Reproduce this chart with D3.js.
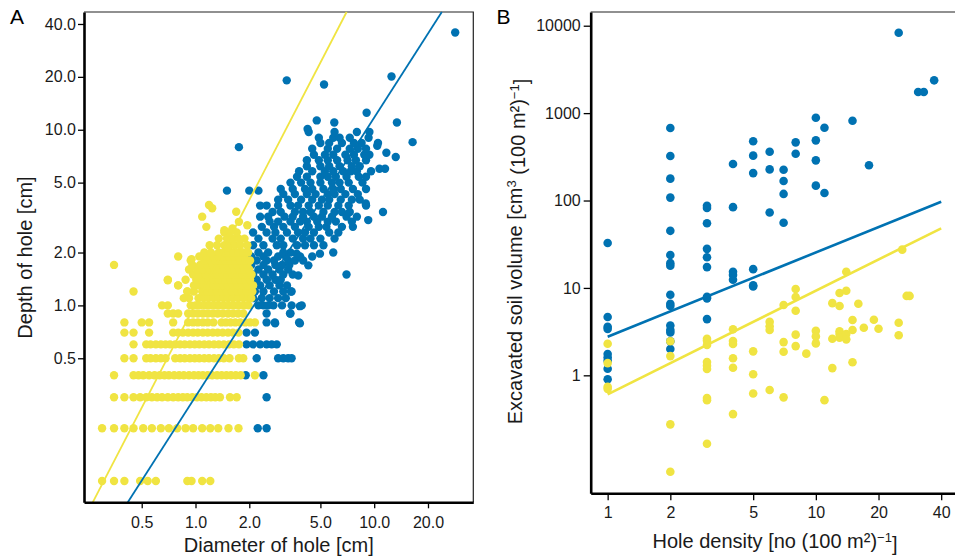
<!DOCTYPE html>
<html>
<head>
<meta charset="utf-8">
<script src="https://cdn.jsdelivr.net/npm/d3@7"></script>
<style>
  body { margin: 0; background: #fff; }
  svg { display: block; font-family: "Liberation Sans", Arial, sans-serif; }
</style>
</head>
<body>
<div id="chart"></div>
<script>
// ---- Panel A: depth vs diameter of hole (cm), rows grouped by depth ----
const yellowRowsA = [
  [0.1, [0.30,0.35,0.40,0.49,0.54,0.60,0.90,0.95,1.09,1.21]],
  [0.2, [0.30,0.35,0.40,0.45,0.51,0.57,0.64,0.71,0.79,0.88,0.97,1.09,1.21,1.34,1.53,1.74]],
  [0.3, [0.35,0.40,0.45,0.49,0.53,0.57,0.61,0.65,0.70,0.75,0.80,0.85,0.90,0.96,1.02,1.08,1.15,1.22,1.29,1.37,1.56,1.70]],
  [0.4, [0.35,0.45,0.48,0.51,0.55,0.59,0.63,0.67,0.71,0.76,0.81,0.86,0.92,0.98,1.04,1.10,1.17,1.24,1.32,1.40,1.49,1.58,1.68,1.79,2.15]],
  [0.5, [0.40,0.45,0.53,0.56,0.60,0.64,0.68,0.77,0.82,0.87,0.93,0.99,1.05,1.12,1.19,1.27,1.35,1.44,1.55,1.75,1.85]],
  [0.6, [0.45,0.53,0.56,0.60,0.64,0.68,0.72,0.77,0.82,0.87,0.93,0.99,1.05,1.12,1.19,1.27,1.35,1.44,1.54,1.64,1.75]],
  [0.7, [0.40,0.45,0.55,0.75,0.80,0.85,0.91,0.97,1.03,1.10,1.17,1.25,1.33,1.42,1.52,1.62,1.74]],
  [0.8, [0.40,0.50,0.55,0.75,0.91,0.97,1.03,1.10,1.17,1.26,1.40,1.48,1.57,1.67,1.78,1.90,2.02,2.15]],
  [0.9, [0.70,0.75,0.80,0.91,0.97,1.03,1.10,1.17,1.25,1.33,1.42,1.52,1.62,1.73,1.85]],
  [1.0, [0.65,0.70,0.94,1.00,1.06,1.13,1.20,1.28,1.36,1.45,1.55,1.65,1.76,1.88,1.98]],
  [1.1, [0.86,0.92,1.04,1.11,1.18,1.26,1.34,1.43,1.52,1.62,1.73,1.85,1.97,2.05]],
  [1.2, [0.45,0.90,0.98,1.09,1.16,1.24,1.32,1.41,1.50,1.60,1.71,1.82,1.94,2.08]],
  [1.3, [0.80,0.98,1.04,1.11,1.18,1.26,1.34,1.43,1.52,1.62,1.73,1.84,1.96,2.10]],
  [1.4, [0.70,0.88,1.01,1.10,1.18,1.26,1.35,1.47,1.57,1.67,1.78,1.90,2.02]],
  [1.5, [0.97,1.05,1.14,1.25,1.33,1.42,1.51,1.61,1.72,1.83,1.95,2.06]],
  [1.6, [0.92,1.02,1.10,1.20,1.28,1.36,1.45,1.55,1.65,1.76,1.88,2.00]],
  [1.7, [0.35,0.96,1.06,1.17,1.25,1.33,1.42,1.51,1.61,1.72,1.83,1.95]],
  [1.8, [0.94,1.12,1.22,1.30,1.38,1.47,1.57,1.67,1.78,1.90,2.02]],
  [1.9, [0.80,1.05,1.15,1.27,1.35,1.44,1.54,1.64,1.75,1.87]],
  [2.0, [1.12,1.22,1.35,1.44,1.53,1.63,1.74,1.85,1.97]],
  [2.2, [1.20,1.32,1.45,1.55,1.66,1.78,1.95]],
  [2.4, [1.35,1.50,1.62,1.75,1.88]],
  [2.6, [1.45,1.55,1.70]]
];
const yellowExtraA = [
  [1.09,3.2],[1.15,2.8],[1.19,3.73],[1.24,3.57],[1.69,3.41],[1.75,2.99],[1.95,2.86],
  [1.45,2.68],[1.61,2.74],[1.51,2.15],[0.80,1.3],[0.90,1.2],[0.70,1.39],[0.95,1.83]
];
const blueRowsA = [
  [0.2, [2.23,2.5]],
  [0.3, [2.5]],
  [0.4, [1.91,2.4]],
  [0.5, [2.2,2.9,3.1,3.3,3.45]],
  [0.6, [1.93,2.1,2.3,2.5,2.67,2.85]],
  [0.7, [1.93,2.15]],
  [0.8, [2.5,2.78,3.8]],
  [0.9, [2.5,3.4]],
  [1.0, [2.25,2.4,2.55,2.73,3.05,3.45,3.93]],
  [1.1, [2.1,2.35,2.6,2.9,3.2]],
  [1.2, [1.7,2.15,2.4,2.75,3.1,3.45]],
  [1.3, [2.05,2.3,2.6,2.95,3.25]],
  [1.4, [2.2,2.5,2.8,3.0]],
  [1.5, [2.1,2.4,2.7,3.1,3.5]],
  [1.6, [2.25,2.55,2.95,3.3]],
  [1.7, [2.05,2.4,2.8,3.05,3.35]],
  [1.8, [2.2,2.5,2.75,3.3,3.6,4.0]],
  [1.9, [2.05,2.4,2.9,3.2,3.85,4.5]],
  [2.0, [2.25,2.55,3.1,3.4]],
  [2.2, [2.1,2.4,2.85,3.1,3.7,4.1,4.6,5.2]],
  [2.4, [2.25,2.7,3.0,3.5,4.0,4.4,5.0,6.0]],
  [2.6, [2.1,2.5,2.8,3.25,3.75,4.1,4.6,5.6,6.3]],
  [2.8, [2.35,2.75,3.1,3.6,4.3,4.9,5.4,6.6,7.6]],
  [3.0, [2.6,2.9,3.4,3.85,4.2,4.8,5.5,6.1,7.5]],
  [3.2, [2.3,2.55,3.15,3.5,4.0,4.6,5.1,5.8,7.0,8.0]],
  [3.4, [2.7,3.0,3.6,4.0,4.4,5.2,6.0,6.6,7.3]],
  [3.7, [2.3,2.5,2.9,3.4,3.75,4.3,4.9,5.5,6.3,7.2,9.0]],
  [4.0, [2.9,3.3,3.9,4.5,5.1,5.6,6.5,7.5,8.3]],
  [4.3, [3.1,3.6,4.2,4.7,5.5,6.0,6.9,8.1]],
  [4.6, [3.0,3.5,4.1,4.5,5.2,5.9,6.5,7.6,9.0]],
  [5.0, [3.4,3.9,4.4,5.0,5.8,6.4,7.2,8.6]],
  [5.4, [3.7,4.2,5.0,5.5,6.1,7.0,8.2,9.0]],
  [5.8, [3.8,4.5,5.3,5.9,6.7,7.4,8.0,9.6]],
  [6.2, [4.2,5.0,5.6,6.4,7.5,8.3]],
  [6.7, [4.2,4.9,5.5,6.2,7.1,7.9,9.0]],
  [7.2, [4.6,5.3,5.9,6.9,7.7,8.8,9.4]],
  [7.8, [4.5,5.5,6.2,7.3,8.1,9.0]],
  [8.4, [5.0,5.6,6.6,7.7,8.5,10.5]],
  [9.0, [4.9,5.9,6.4,7.3,9.3]],
  [9.7, [4.3,6.0,8.0,9.4]]
];
const blueExtraA = [
  [28.4,35.8],[3.24,19.1],[5.24,18.1],[12.5,20.1],[1.75,7.96],[13.4,11.0],[16.4,8.5],
  [9.07,12.5],[13.2,7.0],[4.77,11.3],[5.98,11.0],[4.24,10.1],[1.5,4.5],[2.0,4.5],[2.25,4.5],
  [11.2,3.4],[7.0,1.5],[10.4,8.1],[11.7,7.4],[10.7,6.0],[11.5,6.0],[9.26,3.06],[8.97,3.8],
  [3.84,0.99],[3.38,0.9],[3.84,0.79],[2.79,0.79],[3.42,1.2],[3.76,1.48],[4.28,1.69],
  [4.97,1.97],[5.9,2.0],[3.68,1.97]
];
// fitted lines, endpoints [diameter, depth]
const fitYellowA = [[0.266, 0.0757], [7.01, 46.8]];
const fitBlueA = [[0.418, 0.0757], [23.9, 46.8]];
const ticksAx = [0.5, 1, 2, 5, 10, 20];
const ticksAy = [0.5, 1, 2, 5, 10, 20, 40];

// ---- Panel B: excavated soil volume vs hole density ----
const blueB = [
  [1,32.6],[1,4.65],[1,3.6],[1,3.4],[1,1.75],[1,1.6],[1,1.47],[1,1.19],[1,0.9],
  [2,676],[2,323],[2,178],[2,108],[2,45],[2,23.8],[2,19.2],[2,17.9],[2,8.36],[2,6.6],[2,6.2],
  [2,3.72],[2,3.3],[2,3.1],[2,2.45],[2,2.0],
  [3,87],[3,82],[3,55],[3,28],[3,22.4],[3,17.3],[3,7.9],[3,7.6],[3,4.4],
  [4,262],[4,84],[4,15.3],[4,14.1],[4,12.4],
  [5,476],[5,326],[5,206],[5,16.4],[5,10.7],[5,10.4],
  [6,362],[6,227],[6,73],
  [7,225],[7,167],[7,119],[7,55.7],
  [8,463],[8,343],
  [10,886],[10,488],[10,288],[10,148],
  [11,680],[11,122],
  [15,818],[18,253],[25,8320],[31,1743],[33,1743],[37,2372]
];
const yellowB = [
  [1,2.3],[1,1.38],[1,0.74],[1,0.7],
  [2,2.45],[2,1.66],[2,0.275],[2,0.079],
  [3,2.62],[3,2.49],[3,2.22],[3,1.42],[3,1.29],[3,1.18],[3,0.55],[3,0.52],[3,0.165],
  [4,3.36],[4,2.47],[4,2.28],[4,1.57],[4,1.22],[4,0.36],
  [5,1.88],[5,1.03],[5,0.62],
  [6,4.1],[6,3.64],[6,3.3],[6,0.68],
  [7,6.37],[7,2.4],[7,1.86],[7,0.56],
  [8,9.7],[8,7.87],[8,5.48],[8,2.92],[8,2.16],
  [9,1.77],
  [10,3.24],[10,2.79],[10,2.32],
  [11,0.52],
  [12,6.7],[12,2.62],[12,1.21],
  [13,8.74],[13,6.2],[13,3.19],[13,2.97],[13,2.69],
  [14,15.3],[14,9.29],[14,2.97],[14,2.58],
  [15,4.29],[15,3.3],[15,1.41],
  [16,6.6],[17,3.5],[19,4.33],[20,3.41],
  [25,4.0],[25,2.87],[26,27.4],[27.3,8.1],[28.2,8.1]
];
const fitBlueB = [[1, 2.765], [40, 96.9]];
const fitYellowB = [[1, 0.606], [40, 48.1]];
const ticksBx = [1, 2, 5, 10, 20, 40];
const ticksBy = [1, 10, 100, 1000, 10000];

const BLUE = "#0072B2", YELLOW = "#F0E442";
const FONT = "'Liberation Sans', Arial, sans-serif";

const width = 955, height = 559;
const svg = d3.select("#chart").append("svg")
    .attr("width", width).attr("height", height);

const expand = rows => rows.flatMap(([D, ds]) => ds.map(d => [d, D]));

// styles axis group
function styleAxis(g, size) {
    g.attr("font-family", FONT).attr("font-size", size);
    g.select(".domain").attr("stroke", "#000").attr("stroke-width", 2.6);
    g.selectAll(".tick line").attr("stroke", "#000").attr("stroke-width", 1.3);
    g.selectAll(".tick text").attr("fill", "#1a1a1a");
}

// ================= Panel A =================
const xA = d3.scaleLog().domain([0.2377, 35.86]).range([84, 473.3]);
const yA = d3.scaleLog().domain([0.0757, 46.8]).range([502.3, 12]);
const fmt1 = d3.format(".1f");

// thin top/right frame
svg.append("path")
    .attr("d", `M${xA.range()[0]},${yA.range()[1]}H${xA.range()[1]}V${yA.range()[0]}`)
    .attr("fill", "none").attr("stroke", "#222").attr("stroke-width", 1.2);

const gA = svg.append("g");
gA.selectAll(".pb").data(expand(blueRowsA).concat(blueExtraA)).enter()
    .append("circle")
    .attr("cx", d => xA(d[0])).attr("cy", d => yA(d[1])).attr("r", 4.2)
    .attr("fill", BLUE);
gA.selectAll(".py").data(expand(yellowRowsA).concat(yellowExtraA)).enter()
    .append("circle")
    .attr("cx", d => xA(d[0])).attr("cy", d => yA(d[1])).attr("r", 4.2)
    .attr("fill", YELLOW);

const lineA = d3.line().x(d => xA(d[0])).y(d => yA(d[1]));
svg.append("path").attr("d", lineA(fitYellowA)).attr("fill", "none")
    .attr("stroke", YELLOW).attr("stroke-width", 1.8);
svg.append("path").attr("d", lineA(fitBlueA)).attr("fill", "none")
    .attr("stroke", BLUE).attr("stroke-width", 1.8);

const axAy = svg.append("g").attr("transform", `translate(${xA.range()[0]},0)`)
    .call(d3.axisLeft(yA).tickValues(ticksAy).tickFormat(fmt1)
        .tickSize(6).tickPadding(2).tickSizeOuter(0));
styleAxis(axAy, 16);
const axAx = svg.append("g").attr("transform", `translate(0,${yA.range()[0]})`)
    .call(d3.axisBottom(xA).tickValues(ticksAx).tickFormat(fmt1)
        .tickSize(6).tickPadding(8).tickSizeOuter(0));
styleAxis(axAx, 16);

svg.append("text").attr("x", 278.8).attr("y", 551.7)
    .attr("text-anchor", "middle").attr("font-family", FONT).attr("font-size", 20)
    .attr("fill", "#1a1a1a").text("Diameter of hole [cm]");
svg.append("text").attr("transform", "translate(31.5,257.5) rotate(-90)")
    .attr("text-anchor", "middle").attr("font-family", FONT).attr("font-size", 20)
    .attr("fill", "#1a1a1a").text("Depth of hole [cm]");
svg.append("text").attr("x", 10).attr("y", 23.5)
    .attr("font-family", FONT).attr("font-size", 21).attr("fill", "#000").text("A");

// ================= Panel B =================
const xB = d3.scaleLog().domain([0.829, 46.6]).range([590.7, 955]);
const yB = d3.scaleLog().domain([0.0447, 14350]).range([493.3, 12]);

svg.append("path")
    .attr("d", `M${xB.range()[0]},${yB.range()[1]}H${xB.range()[1]}`)
    .attr("fill", "none").attr("stroke", "#222").attr("stroke-width", 1.2);

const gB = svg.append("g");
gB.selectAll(".pb").data(blueB).enter()
    .append("circle")
    .attr("cx", d => xB(d[0])).attr("cy", d => yB(d[1])).attr("r", 4.3)
    .attr("fill", BLUE);
gB.selectAll(".py").data(yellowB).enter()
    .append("circle")
    .attr("cx", d => xB(d[0])).attr("cy", d => yB(d[1])).attr("r", 4.3)
    .attr("fill", YELLOW);

const lineB = d3.line().x(d => xB(d[0])).y(d => yB(d[1]));
svg.append("path").attr("d", lineB(fitBlueB)).attr("fill", "none")
    .attr("stroke", BLUE).attr("stroke-width", 2.6);
svg.append("path").attr("d", lineB(fitYellowB)).attr("fill", "none")
    .attr("stroke", YELLOW).attr("stroke-width", 2.6);

const axBy = svg.append("g").attr("transform", `translate(${xB.range()[0]},0)`)
    .call(d3.axisLeft(yB).tickValues(ticksBy).tickFormat(d3.format("d"))
        .tickSize(7).tickPadding(3).tickSizeOuter(0));
styleAxis(axBy, 16);
const axBx = svg.append("g").attr("transform", `translate(0,${yB.range()[0]})`)
    .call(d3.axisBottom(xB).tickValues(ticksBx).tickFormat(d3.format("d"))
        .tickSize(7).tickPadding(6).tickSizeOuter(0));
styleAxis(axBx, 16);

// x title with superscript
const tBx = svg.append("text").attr("x", 775).attr("y", 548)
    .attr("text-anchor", "middle").attr("font-family", FONT).attr("font-size", 20)
    .attr("fill", "#1a1a1a");
tBx.append("tspan").text("Hole density [no (100 m\u00B2)");
tBx.append("tspan").attr("dy", "-0.45em").attr("font-size", 13).text("\u22121");
tBx.append("tspan").attr("dy", "0.45em").text("]");

// y title with superscripts
const tBy = svg.append("text").attr("transform", "translate(521.5,251.5) rotate(-90)")
    .attr("text-anchor", "middle").attr("font-family", FONT).attr("font-size", 20)
    .attr("fill", "#1a1a1a");
tBy.append("tspan").text("Excavated soil volume [cm");
tBy.append("tspan").attr("dy", "-0.45em").attr("font-size", 13).text("3");
tBy.append("tspan").attr("dy", "0.45em").text(" (100 m\u00B2)");
tBy.append("tspan").attr("dy", "-0.45em").attr("font-size", 13).text("\u22121");
tBy.append("tspan").attr("dy", "0.45em").text("]");

svg.append("text").attr("x", 496.5).attr("y", 23.5)
    .attr("font-family", FONT).attr("font-size", 21).attr("fill", "#000").text("B");
</script>
</body>
</html>
